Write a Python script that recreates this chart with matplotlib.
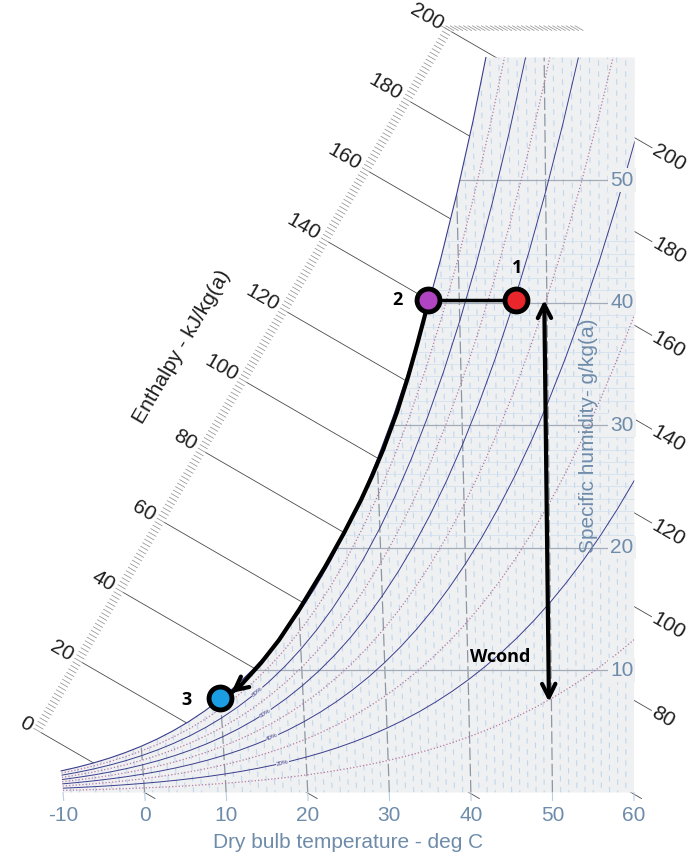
import numpy as np
import matplotlib.pyplot as plt
from matplotlib.patches import Polygon, FancyArrowPatch
from matplotlib.collections import LineCollection

plt.rcParams['font.family'] = ['Liberation Sans', 'DejaVu Sans']

# saturation pressure of water vapour (kPa) every 2 deg C
t_sat = [-10, -8, -6, -4, -2, 0, 2, 4, 6, 8, 10, 12, 14, 16, 18, 20, 22, 24,
         26, 28, 30, 32, 34, 36, 38, 40, 42, 44, 46, 48, 50, 52, 54, 56, 58, 60]
p_sat = [0.2865, 0.3352, 0.3906, 0.4546, 0.5278, 0.6112, 0.7060, 0.8135,
         0.9353, 1.0729, 1.2282, 1.4028, 1.5989, 1.8185, 2.0640, 2.3389,
         2.6446, 2.9852, 3.3638, 3.7823, 4.2467, 4.7578, 5.3226, 5.9453,
         6.6297, 7.3814, 8.2054, 9.1075, 10.094, 11.171, 12.344, 13.623,
         15.012, 16.522, 18.159, 19.932]
p_atm = 101.325

rh_levels = [10, 20, 30, 40, 50, 60, 70, 80, 90]
rh_tagged = [20, 40, 60, 80]
rh_tag_t = [17.1, 16.0, 15.3, 14.5]

t_ticks = [-10, 0, 10, 20, 30, 40, 50, 60]
w_ticks = [10, 20, 30, 40, 50]
h_scale = [0, 20, 40, 60, 80, 100, 120, 140, 160, 180, 200]
h_right = [80, 100, 120, 140, 160, 180, 200]

# states of the air
pt_names = ['1', '2', '3']
pt_t = [46.5, 36.4, 10.0]
pt_w = [40.2, 40.2, 7.7]
pt_colors = ['#e8262b', '#b044c2', '#1b9de4']

# cooling path from 2 down to 3
path_t = [36.4, 36.04, 35.03, 33.88, 32.48, 30.70, 29.31, 27.91, 25.75,
          23.34, 20.00, 17.44, 15.13, 12.59, 11.31]
path_w = [40.2, 38.98, 36.53, 33.92, 31.06, 27.96, 25.84, 23.88, 21.18,
          18.41, 14.90, 12.45, 10.57, 8.78, 8.12]

# water condensed
wcond_t = 49.7
wcond_w = [7.4, 40.2]

# ---- chart geometry ----
SKEW = 2.611          # kJ/kg per g/kg, slope of the enthalpy lines
PX_X, PX_Y = 8.108, 12.25
X0, Y0 = 144.6, 792.5
W, H = 689, 855
TXT = '#6e8caa'
DARK = '#1e1e1e'
FILL = '#eff0f2'
NAVY = '#3b3d8c'
PINK = '#b47aa0'


def xi(t, w):
    # abscissa of the oblique chart: enthalpy minus the skew
    t = np.asarray(t, float)
    w = np.asarray(w, float)
    return 1.006 * t + w * (2.501 - SKEW + 0.00186 * t)


def w_from_p(p):
    p = np.asarray(p, float)
    return 622.0 * p / (p_atm - p)


def along(h, w0, L):
    # point L pixels down-right along the enthalpy line h from height w0
    w1 = w0 - L / np.hypot(SKEW * PX_X, PX_Y)
    return h - SKEW * w1, w1


def ruler_w(h):
    return 4.88 + 0.286 * h


t_sat = np.array(t_sat)
p_sat = np.array(p_sat)
w_sat = w_from_p(p_sat)
t_top = np.interp(60, w_sat, t_sat)

fig = plt.figure(figsize=(W / 100, H / 100), dpi=100)
ax = fig.add_axes([0, 0, 1, 1])
ax.set_xlim(-X0 / PX_X, (W - X0) / PX_X)
ax.set_ylim(-(H - Y0) / PX_Y, Y0 / PX_Y)
ax.axis('off')

ang = -np.degrees(np.arctan2(PX_Y, SKEW * PX_X))
ux, uy = np.cos(np.radians(ang)), np.sin(np.radians(ang))

# enthalpy lines, from the ruler out to the chart edge
for h in h_scale:
    ws = ruler_w(h)
    if h <= 60.36:
        we = -12 / np.hypot(SKEW * PX_X, PX_Y)
    else:
        we = (h - 60.36) / (SKEW + 0.0016) - 20 / np.hypot(SKEW * PX_X, PX_Y)
    ax.plot([h - SKEW * ws, h - SKEW * we], [ws, we], color='#4a4a4a',
            lw=0.6, zorder=1)

# hatched enthalpy ruler
segs = []
for h in np.arange(0, 201, 1):
    a = along(h, ruler_w(h), -9)
    b = along(h, ruler_w(h), 0)
    segs.append([a, b])
for k in range(31):
    h = 200 + 0.55 * k
    a = along(h, 62.6, 0)
    b = along(h, 62.6, 10)
    segs.append([a, b])
ax.add_collection(LineCollection(segs, colors='#8a8a8a', lw=0.5, zorder=1))

for h in h_scale:
    ax.annotate(str(h), (h - SKEW * ruler_w(h), ruler_w(h)),
                xytext=(-12 * ux, -12 * uy), textcoords='offset pixels',
                rotation=ang, rotation_mode='anchor', ha='right', va='center',
                fontsize=15, color=DARK)

for h in h_right:
    w0 = (h - 60.36) / (SKEW + 0.0016)
    ax.annotate(str(h), (h - SKEW * w0, w0),
                xytext=(22 * ux, 22 * uy), textcoords='offset pixels',
                rotation=ang, rotation_mode='anchor', ha='left', va='center',
                fontsize=15, color=DARK)

# chart background below the saturation line
keep = t_sat < t_top
sat_t = np.r_[t_sat[keep], t_top]
sat_w = np.r_[w_sat[keep], 60]
poly = np.column_stack([
    np.r_[xi(-10, 0), xi(60, 0), xi(60, 60), xi(sat_t[::-1], sat_w[::-1])],
    np.r_[0, 0, 60, sat_w[::-1]]])
bg = Polygon(poly, closed=True, facecolor=FILL, edgecolor='none', zorder=2)
ax.add_patch(bg)

# minor grid
for t in range(-9, 60):
    if t % 10 == 0:
        continue
    ln, = ax.plot(xi([t, t], [0, 62]), [0, 62], color='#c2d7eb', lw=0.8,
                  ls=(t % 3 * 3, (5, 5)), zorder=3)
    ln.set_clip_path(bg)
for w in range(20, 46):
    if w % 10 == 0:
        continue
    ln, = ax.plot([xi(-10, w), xi(60, w)], [w, w], color='#d3e2f0', lw=0.6,
                  zorder=3)
    ln.set_clip_path(bg)

# major grid
for t in t_ticks[1:-1]:
    ln, = ax.plot(xi([t, t], [0, 62]), [0, 62], color='#8b97a4', lw=0.9,
                  ls=(0, (10, 3)), zorder=3)
    ln.set_clip_path(bg)
for w in w_ticks:
    ln, = ax.plot([xi(-10, w), xi(60, w)], [w, w], color='#a2adb9', lw=0.9,
                  zorder=3)
    ln.set_clip_path(bg)

# relative humidity curves
for rh in rh_levels:
    wr = w_from_p(p_sat * rh / 100)
    if rh % 20 == 0:
        ln, = ax.plot(xi(t_sat, wr), wr, color=NAVY, lw=0.7, zorder=4)
    else:
        ln, = ax.plot(xi(t_sat, wr), wr, color=PINK, lw=0.9, ls=':', zorder=4)
    ln.set_clip_path(bg)
ax.plot(xi(sat_t, sat_w), sat_w, color=NAVY, lw=0.8, zorder=4)

for rh, t in zip(rh_tagged, rh_tag_t):
    pr = np.interp([t - 0.5, t, t + 0.5], t_sat, p_sat) * rh / 100
    wr = w_from_p(pr)
    xr = xi([t - 0.5, t, t + 0.5], wr)
    a = np.degrees(np.arctan2((wr[2] - wr[0]) * PX_Y, (xr[2] - xr[0]) * PX_X))
    ax.text(xr[1], wr[1], f'{rh}%', fontsize=4.5, color=NAVY, rotation=a,
            ha='center', va='center', rotation_mode='anchor', zorder=5,
            bbox=dict(boxstyle='square,pad=0.05', fc=FILL, ec='none'))

# axes text
for t in t_ticks:
    ax.plot(xi([t, t], [0, -0.65]), [0, -0.65], color='#b9cde0', lw=0.8,
            zorder=3)
    ax.text(xi(t, 0), -1.85, str(t), ha='center', va='center', fontsize=15,
            color=TXT)
ax.text((xi(-10, 0) + xi(60, 0)) / 2, -4.12, 'Dry bulb temperature - deg C',
        ha='center', va='center', fontsize=15, color=TXT)
for w in w_ticks:
    ax.text(xi(60, w) - 0.1, w, str(w), ha='right', va='center', fontsize=15,
            color=TXT, zorder=5,
            bbox=dict(boxstyle='square,pad=0.1', fc=FILL, ec='none'))
ax.text(54.7, 29.1, 'Specific humidity- g/kg(a)', rotation=90, ha='center',
        va='center', fontsize=15, color=TXT, zorder=5)
ax.text(4.63, 36.4, 'Enthalpy - kJ/kg(a)', rotation=59.7, ha='center',
        va='center', fontsize=15, color=DARK, rotation_mode='anchor')

# process lines
px = xi(pt_t, pt_w)
ax.plot([px[1], px[0]], [pt_w[1], pt_w[0]], color='k', lw=2.5, zorder=8)
qx = xi(path_t, path_w)
ax.plot(qx, path_w, color='k', lw=3, zorder=8, solid_capstyle='round',
        solid_joinstyle='round')
ax.annotate('', xy=(qx[-1], path_w[-1]), xytext=(qx[-2], path_w[-2]),
            arrowprops=dict(arrowstyle='->', lw=3, color='k',
                            mutation_scale=24, shrinkA=0, shrinkB=0),
            zorder=8)
cx = xi([wcond_t, wcond_t], wcond_w)
ax.add_patch(FancyArrowPatch((cx[0], wcond_w[0]), (cx[1], wcond_w[1]),
                             arrowstyle='<->', mutation_scale=24, lw=3,
                             color='k', shrinkA=0, shrinkB=0, zorder=8))

for x, w, c in zip(px, pt_w, pt_colors):
    ax.plot(x, w, 'o', ms=16.5, mfc=c, mec='k', mew=3.5, zorder=9)

lbl = dict(fontsize=13, fontweight='bold', family=['Open Sans', 'DejaVu Sans'],
           color='k', ha='center', va='center', zorder=9)
ax.annotate(pt_names[0], (px[0], pt_w[0]), xytext=(1, 32),
            textcoords='offset pixels', **lbl)
ax.annotate(pt_names[1], (px[1], pt_w[1]), xytext=(-30, 0),
            textcoords='offset pixels', **lbl)
ax.annotate(pt_names[2], (px[2], pt_w[2]), xytext=(-34, -2),
            textcoords='offset pixels', **lbl)
ax.text(43.8, 11.06, 'Wcond', **lbl)

fig.savefig('out.png', dpi=100)
